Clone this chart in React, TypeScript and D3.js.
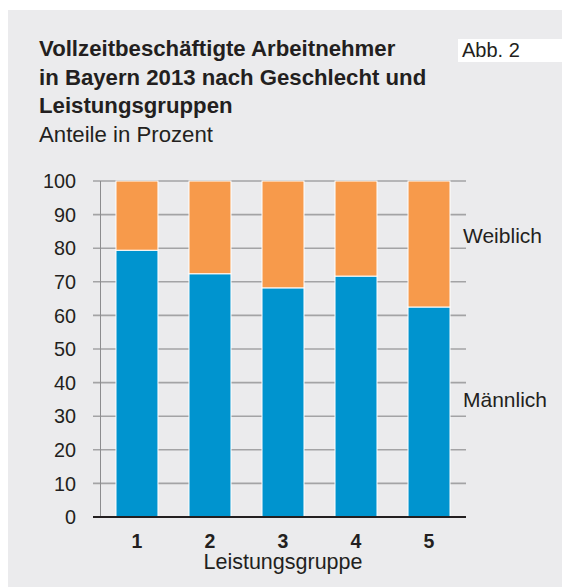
import { useRef, useEffect } from 'react';
import * as d3 from 'd3';

const GROUPS = ['1', '2', '3', '4', '5'];
const MAENNLICH = [79.4, 72.4, 68.2, 71.7, 62.5];
const WEIBLICH = [20.6, 27.6, 31.8, 28.3, 37.5];
const Y_TICKS = [0, 10, 20, 30, 40, 50, 60, 70, 80, 90, 100];
const TITLE_LINES = [
  'Vollzeitbeschäftigte Arbeitnehmer',
  'in Bayern 2013 nach Geschlecht und',
  'Leistungsgruppen',
];

const W = 562;
const H = 587;
const PLOT = { left: 93, right: 466, top: 181, bottom: 517 };
const FONT = 'Liberation Sans, Arial, Helvetica, sans-serif';
const COLOR_M = '#0094cf';
const COLOR_W = '#f79a4b';
const COLOR_BG = '#ebebed';
const COLOR_TEXT = '#231f20';

export default function App() {
  const svgRef = useRef<SVGSVGElement>(null);

  useEffect(() => {
    const svg = svgRef.current;
    if (!svg) return;
    const root = d3.select(svg);
    root.selectAll('*').remove();

    // Panel
    root.append('rect')
      .attr('x', 8).attr('y', 10)
      .attr('width', W - 8).attr('height', H - 10)
      .attr('fill', COLOR_BG);

    // Abb. label
    root.append('rect')
      .attr('x', 458).attr('y', 39)
      .attr('width', W - 458).attr('height', 23)
      .attr('fill', '#ffffff');
    root.append('text')
      .attr('x', 462).attr('y', 57)
      .attr('font-family', FONT).attr('font-size', 20)
      .attr('fill', COLOR_TEXT)
      .text('Abb. 2');

    // Title
    TITLE_LINES.forEach((line, i) => {
      root.append('text')
        .attr('x', 39).attr('y', 56 + i * 28.5)
        .attr('font-family', FONT).attr('font-size', 22.2)
        .attr('font-weight', 'bold')
        .attr('fill', COLOR_TEXT)
        .text(line);
    });
    root.append('text')
      .attr('x', 39).attr('y', 142)
      .attr('font-family', FONT).attr('font-size', 22.2)
      .attr('fill', COLOR_TEXT)
      .text('Anteile in Prozent');

    // Scales
    const y = d3.scaleLinear().domain([0, 100]).range([PLOT.bottom, PLOT.top]);
    const x = d3.scaleBand<string>()
      .domain(GROUPS)
      .range([100, PLOT.right])
      .paddingInner(0.425)
      .paddingOuter(0.219);

    // Grid lines
    Y_TICKS.filter((t) => t > 0).forEach((t) => {
      root.append('line')
        .attr('x1', PLOT.left).attr('x2', PLOT.right)
        .attr('y1', y(t)).attr('y2', y(t))
        .attr('stroke', '#a3a3a5')
        .attr('stroke-width', 1.6);
    });

    // Y axis line
    root.append('line')
      .attr('x1', 100.5).attr('x2', 100.5)
      .attr('y1', y(100)).attr('y2', y(0))
      .attr('stroke', '#8c8c8e')
      .attr('stroke-width', 1);

    // Tick labels
    Y_TICKS.forEach((t) => {
      root.append('text')
        .attr('x', 76).attr('y', y(t))
        .attr('dy', '0.36em')
        .attr('text-anchor', 'end')
        .attr('font-family', FONT).attr('font-size', 19.8)
        .attr('fill', COLOR_TEXT)
        .text(String(t));
    });

    // Bars
    GROUPS.forEach((g, i) => {
      const bx = x(g) ?? 0;
      const bw = x.bandwidth();
      root.append('rect')
        .attr('x', bx).attr('y', y(MAENNLICH[i]))
        .attr('width', bw).attr('height', y(0) - y(MAENNLICH[i]))
        .attr('fill', COLOR_M)
        .attr('stroke', '#ffffff').attr('stroke-width', 1);
      root.append('rect')
        .attr('x', bx).attr('y', y(MAENNLICH[i] + WEIBLICH[i]))
        .attr('width', bw).attr('height', y(MAENNLICH[i]) - y(MAENNLICH[i] + WEIBLICH[i]))
        .attr('fill', COLOR_W)
        .attr('stroke', '#ffffff').attr('stroke-width', 1);

      root.append('text')
        .attr('x', bx + bw / 2).attr('y', 548)
        .attr('text-anchor', 'middle')
        .attr('font-family', FONT).attr('font-size', 19.5)
        .attr('font-weight', 'bold')
        .attr('fill', COLOR_TEXT)
        .text(g);
    });

    // Baseline
    root.append('line')
      .attr('x1', PLOT.left).attr('x2', PLOT.right)
      .attr('y1', y(0)).attr('y2', y(0))
      .attr('stroke', '#231f20')
      .attr('stroke-width', 2);

    // Axis title
    root.append('text')
      .attr('x', 283).attr('y', 569)
      .attr('text-anchor', 'middle')
      .attr('font-family', FONT).attr('font-size', 21.5)
      .attr('fill', COLOR_TEXT)
      .text('Leistungsgruppe');

    // Series labels
    root.append('text')
      .attr('x', 463).attr('y', 243)
      .attr('font-family', FONT).attr('font-size', 21)
      .attr('fill', COLOR_TEXT)
      .text('Weiblich');
    root.append('text')
      .attr('x', 463).attr('y', 407)
      .attr('font-family', FONT).attr('font-size', 21)
      .attr('fill', COLOR_TEXT)
      .text('Männlich');
  }, []);

  return (
    <svg
      ref={svgRef}
      width={W}
      height={H}
      style={{ position: 'absolute', left: 0, top: 0, display: 'block' }}
    />
  );
}
